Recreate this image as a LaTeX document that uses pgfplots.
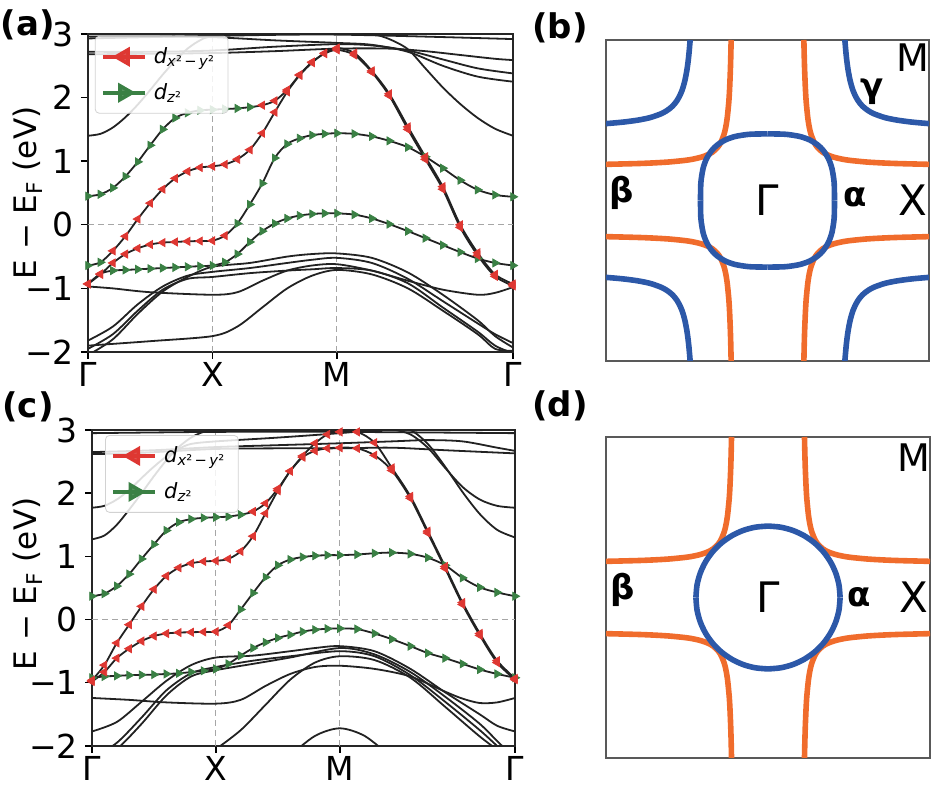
\documentclass[border=0pt]{standalone}
\usepackage{fontspec}
\setmainfont{DejaVu Sans}
\usepackage{pgfplots}
\usepackage{pgfplotstable}
\pgfplotsset{compat=1.18}
\definecolor{pr}{RGB}{222,55,50}
\definecolor{pg}{RGB}{58,128,68}
\definecolor{fsorange}{RGB}{240,108,44}
\definecolor{fsblue}{RGB}{44,88,168}
\definecolor{bandk}{RGB}{34,34,34}

\tikzset{gridd/.style={gray!70, line width=0.5pt, dash pattern=on 3pt off 2pt}}
\pgfplotsset{
  bandax/.style={scale only axis, anchor=south west,
    xmin=0, xmax=3.414, ymin=-2, ymax=3,
    xtick={0,1,2,3.414}, xticklabels={Γ,X,M,Γ},
    ytick={-2,-1,0,1,2,3}, yticklabels={−2,−1,0,1,2,3},
    tick align=outside, xtick pos=left, ytick pos=left,
    major tick length=3.5pt, tick style={black, line width=0.7pt},
    axis line style={black!85, line width=0.7pt},
    tick label style={font=\fontsize{16.5}{18}\selectfont},
    xticklabel style={yshift=2pt},
    legend cell align=left,
    legend image code/.code={\draw[mark repeat=2,mark phase=2,#1] plot coordinates {(0pt,0pt) (10.5pt,0pt) (21pt,0pt)};},
    legend style={anchor=north west, draw=gray!35,
      rounded corners=2pt, fill=white, fill opacity=0.85, text opacity=1,
      font=\fontsize{10.5}{12}\selectfont, row sep=4.5pt, inner xsep=3pt, inner ysep=3.5pt,
      nodes={inner xsep=3.5pt, inner ysep=2pt}},
  },
  fsax/.style={scale only axis, anchor=south west,
    xmin=-1, xmax=1, ymin=-1, ymax=1, xtick=\empty, ytick=\empty,
    axis line style={black!65, line width=0.8pt}},
  bl/.style={bandk, line width=0.9pt, smooth, forget plot},
  projr/.style={only marks, forget plot, mark=triangle*, mark size=2.3pt,
    mark options={rotate=90, draw=pr, fill=pr},
    restrict expr to domain={\thisrow{c}}{0.5:1.5}},
  projg/.style={only marks, forget plot, mark=triangle*, mark size=2.3pt,
    mark options={rotate=-90, draw=pg, fill=pg},
    restrict expr to domain={\thisrow{c}}{1.5:2.5}},
  orl/.style={fsorange, line width=2.8pt, smooth, forget plot},
  bll/.style={fsblue, line width=2.8pt, smooth, forget plot},
}

\newcommand{\fourq}[2]{%
  \addplot[#1] table[x=x, y=y] {#2};
  \addplot[#1] table[x expr=-\thisrow{x}, y=y] {#2};
  \addplot[#1] table[x=x, y expr=-\thisrow{y}] {#2};
  \addplot[#1] table[x expr=-\thisrow{x}, y expr=-\thisrow{y}] {#2};
}
% projected band markers (c=1 d_{x2-y2}, c=2 d_{z2})
\newcommand{\projband}[1]{%
  \addplot[projr] table[x=k, y=E] {#1};
  \addplot[projg] table[x=k, y=E] {#1};
}

% ---- panel (a): projected bands
\pgfplotstableread{
k E c
0 -0.93 1
0.1 -0.77 1
0.2 -0.72 2
0.3 -0.71 2
0.4 -0.70 2
0.5 -0.69 2
0.6 -0.68 2
0.7 -0.67 2
0.8 -0.66 2
0.9 -0.65 2
1 -0.64 2
1.1 -0.59 2
1.2 -0.46 2
1.3 -0.27 2
1.4 -0.10 2
1.5 0.02 2
1.6 0.10 2
1.7 0.145 2
1.8 0.17 2
1.9 0.18 2
2 0.18 2
2.14 0.16 2
2.28 0.10 2
2.42 0.01 2
2.57 -0.10 2
2.71 -0.21 2
2.85 -0.32 2
2.99 -0.43 2
3.13 -0.53 2
3.27 -0.60 2
3.414 -0.64 2
}\aOne
\pgfplotstableread{
k E c
0 -0.93 1
0.1 -0.78 1
0.2 -0.60 1
0.3 -0.46 1
0.4 -0.37 1
0.5 -0.31 1
0.6 -0.28 1
0.7 -0.27 1
0.8 -0.26 1
0.9 -0.255 1
1 -0.25 1
1.1 -0.17 1
1.2 0.02 2
1.3 0.32 2
1.4 0.65 2
1.5 1.05 2
1.6 1.27 2
1.7 1.36 2
1.8 1.41 2
1.9 1.43 2
2 1.44 2
2.14 1.43 2
2.28 1.39 2
2.42 1.32 2
2.57 1.22 2
2.71 1.07 2
2.85 0.89 2
2.99 0.70 2
3.13 0.55 2
3.27 0.47 2
3.414 0.44 2
}\aTwo
\pgfplotstableread{
k E c
0 -0.64 2
0.1 -0.59 2
0.2 -0.41 1
0.3 -0.18 1
0.4 0.09 1
0.5 0.34 1
0.6 0.56 1
0.7 0.73 1
0.8 0.84 1
0.9 0.90 1
1 0.92 1
1.1 0.95 1
1.2 1.03 1
1.3 1.18 1
1.4 1.44 1
1.5 1.77 1
1.6 2.09 1
1.7 2.35 1
1.8 2.55 1
1.9 2.70 1
2 2.78 1
2.14 2.70 1
2.28 2.42 1
2.42 2.06 1
2.57 1.54 1
2.71 1.07 1
2.85 0.60 1
2.99 0.00 1
3.13 -0.44 1
3.27 -0.78 1
3.414 -0.93 1
}\aThree
\pgfplotstableread{
k E c
0 0.45 2
0.1 0.48 2
0.2 0.58 2
0.3 0.76 2
0.4 0.99 2
0.5 1.25 2
0.6 1.50 2
0.7 1.68 2
0.8 1.76 2
0.9 1.80 2
1 1.81 2
1.1 1.82 2
1.2 1.83 2
1.3 1.85 2
1.4 1.88 1
1.5 1.95 1
1.6 2.12 1
1.7 2.36 1
1.8 2.56 1
1.9 2.69 1
2 2.75 1
2.14 2.67 1
2.28 2.40 1
2.42 2.03 1
2.57 1.50 1
2.71 1.03 1
2.85 0.56 1
2.99 -0.04 1
3.13 -0.48 1
3.27 -0.81 1
3.414 -0.96 1
}\aFour

% ---- panel (c): projected bands
\pgfplotstableread{
k E c
0 -0.92 2
0.1 -0.90 2
0.2 -0.89 2
0.3 -0.88 2
0.4 -0.875 2
0.5 -0.87 2
0.6 -0.86 2
0.7 -0.85 2
0.8 -0.83 2
0.9 -0.81 2
1 -0.78 2
1.1 -0.70 2
1.2 -0.57 2
1.3 -0.45 2
1.4 -0.36 2
1.5 -0.29 2
1.6 -0.24 2
1.7 -0.19 2
1.8 -0.16 2
1.9 -0.145 2
2 -0.14 2
2.14 -0.15 2
2.28 -0.22 2
2.42 -0.31 2
2.57 -0.42 2
2.71 -0.53 2
2.85 -0.61 2
2.99 -0.70 2
3.13 -0.79 2
3.27 -0.86 2
3.414 -0.92 2
}\cOne
\pgfplotstableread{
k E c
0 -0.98 1
0.1 -0.83 1
0.2 -0.61 1
0.3 -0.46 1
0.4 -0.34 1
0.5 -0.26 1
0.6 -0.22 1
0.7 -0.205 1
0.8 -0.20 1
0.9 -0.195 1
1 -0.19 1
1.1 -0.09 1
1.2 0.16 2
1.3 0.42 2
1.4 0.67 2
1.5 0.86 2
1.6 0.95 2
1.7 0.99 2
1.8 1.01 2
1.9 1.02 2
2 1.02 2
2.14 1.03 2
2.28 1.05 2
2.42 1.06 2
2.57 1.04 2
2.71 0.98 2
2.85 0.86 2
2.99 0.66 2
3.13 0.51 2
3.27 0.43 2
3.414 0.37 2
}\cTwo
\pgfplotstableread{
k E c
0 -0.96 1
0.1 -0.72 1
0.2 -0.37 1
0.3 -0.08 1
0.4 0.21 1
0.5 0.48 1
0.6 0.69 1
0.7 0.82 1
0.8 0.89 1
0.9 0.92 1
1 0.93 1
1.1 0.96 1
1.2 1.08 1
1.3 1.32 1
1.4 1.68 1
1.5 2.04 1
1.6 2.35 1
1.7 2.59 1
1.8 2.79 1
1.9 2.93 1
2 2.97 1
2.14 2.97 1
2.28 2.80 1
2.42 2.40 1
2.57 1.95 1
2.71 1.40 1
2.85 0.84 1
2.99 0.27 1
3.13 -0.22 1
3.27 -0.65 1
3.414 -0.93 1
}\cThree
\pgfplotstableread{
k E c
0 0.37 2
0.1 0.41 2
0.2 0.53 2
0.3 0.72 2
0.4 0.96 2
0.5 1.19 2
0.6 1.41 2
0.7 1.54 2
0.8 1.59 2
0.9 1.61 2
1 1.62 2
1.1 1.63 2
1.2 1.66 2
1.3 1.71 1
1.4 1.84 1
1.5 2.07 1
1.6 2.35 1
1.7 2.57 1
1.8 2.67 1
1.9 2.71 1
2 2.72 1
2.14 2.71 1
2.28 2.60 1
2.42 2.36 1
2.57 1.92 1
2.71 1.37 1
2.85 0.81 1
2.99 0.24 1
3.13 -0.25 1
3.27 -0.68 1
3.414 -0.95 1
}\cFour

% ---- Fermi surface quadrants
\pgfplotstableread{
x y
0.2252 1.0
0.227 0.916
0.23 0.81
0.235 0.69
0.24 0.61
0.25 0.51
0.26 0.45
0.27 0.41
0.29 0.36
0.31 0.33
0.34 0.302
0.37 0.285
0.41 0.27
0.46 0.258
0.51 0.25
0.61 0.24
0.71 0.234
0.81 0.23
1.0 0.2252
}\betaq
\pgfplotstableread{
x y
0.479 1.0
0.482 0.964
0.486 0.918
0.49 0.88
0.495 0.84
0.5 0.807
0.51 0.754
0.52 0.715
0.53 0.684
0.54 0.66
0.56 0.623
0.588 0.588
0.623 0.56
0.66 0.54
0.715 0.52
0.754 0.51
0.807 0.5
0.88 0.49
0.94 0.484
1.0 0.479
}\gammaq
\pgfplotstableread{
x y
0.415 0
0.4139 0.0816
0.4108 0.1292
0.3982 0.2029
0.3771 0.2615
0.3474 0.3091
0.3294 0.3294
0.3091 0.3474
0.2615 0.3771
0.2029 0.3982
0.1292 0.4108
0.0816 0.4139
0 0.415
}\alphaq
\pgfplotstableread{
x y
0.445 0
0.4382 0.0773
0.4182 0.1522
0.3854 0.2225
0.3409 0.2860
0.2860 0.3409
0.2225 0.3854
0.1522 0.4182
0.0773 0.4382
0 0.445
}\circq

\begin{document}
\begin{tikzpicture}
\path[use as bounding box] (0,0) rectangle (470.5pt,393pt);

% ================= (a)
\begin{axis}[bandax, at={(44pt,217pt)}, width=212.5pt, height=159pt,
  legend style={at={(0.016,0.994)}}]
\draw[gridd] (axis cs:1,-2) -- (axis cs:1,3);
\draw[gridd] (axis cs:2,-2) -- (axis cs:2,3);
\draw[gridd] (axis cs:0,0) -- (axis cs:3.414,0);
\addlegendimage{pr, line width=1.8pt, mark=triangle*, mark size=4pt, mark options={rotate=90}}
\addlegendentry{\textit{d}\textsubscript{\textit{x}²\,−\,\textit{y}²}}
\addlegendimage{pg, line width=1.8pt, mark=triangle*, mark size=4pt, mark options={rotate=-90}}
\addlegendentry{\textit{d}\textsubscript{\textit{z}²}}
\projband{\aOne}
\projband{\aTwo}
\projband{\aThree}
\projband{\aFour}
% other bands
\addplot[bl] coordinates {(0,1.4) (0.1,1.43) (0.2,1.53) (0.3,1.69) (0.4,1.89) (0.5,2.12) (0.6,2.36) (0.7,2.58) (0.8,2.77) (0.9,2.9) (1,2.96) (1.5,3.05) (2,3.05) (2.28,3.0) (2.42,2.92) (2.57,2.76) (2.71,2.46) (2.85,2.16) (2.99,1.9) (3.13,1.68) (3.27,1.51) (3.414,1.4)};
\addplot[bl] coordinates {(0,2.68) (0.5,2.69) (1,2.7) (1.5,2.73) (2,2.77) (2.42,2.77) (2.71,2.73) (2.99,2.67) (3.27,2.61) (3.414,2.59)};
\addplot[bl] coordinates {(0,2.72) (0.5,2.72) (1,2.74) (1.5,2.8) (2,2.84) (2.28,2.82) (2.57,2.74) (2.85,2.6) (3.13,2.46) (3.414,2.38)};
\addplot[bl] coordinates {(0,2.96) (0.5,2.96) (1,2.95) (1.5,2.9) (2,2.86) (2.28,2.83) (2.57,2.72) (2.85,2.5) (3.13,2.33) (3.414,2.25)};
\addplot[bl] coordinates {(0,2.93) (1,2.97) (2,2.99) (3.414,2.92)};
\addplot[bl] coordinates {(0,-0.97) (0.2,-1.0) (0.5,-1.06) (1,-1.1) (1.2,-1.06) (1.4,-0.88) (1.6,-0.72) (1.8,-0.64) (2,-0.62) (2.28,-0.72) (2.57,-0.88) (2.85,-1.02) (3.13,-1.1) (3.27,-1.07) (3.414,-0.98)};
\addplot[bl] coordinates {(0,-1.82) (0.2,-1.6) (0.4,-1.25) (0.6,-0.97) (0.8,-0.8) (1,-0.74) (1.3,-0.68) (1.6,-0.6) (1.8,-0.55) (2,-0.52) (2.28,-0.6) (2.57,-0.85) (2.85,-1.2) (3.13,-1.55) (3.27,-1.72) (3.414,-1.86)};
\addplot[bl] coordinates {(0,-2.05) (0.2,-1.8) (0.4,-1.4) (0.6,-1.05) (0.8,-0.82) (1,-0.66) (1.3,-0.6) (1.6,-0.5) (1.8,-0.46) (2,-0.45) (2.28,-0.52) (2.57,-0.75) (2.85,-1.1) (3.13,-1.5) (3.27,-1.75) (3.414,-1.93)};
\addplot[bl] coordinates {(0,-1.9) (0.5,-1.83) (1,-1.75) (1.2,-1.6) (1.4,-1.3) (1.6,-1.0) (1.8,-0.8) (2,-0.71) (2.28,-0.78) (2.57,-1.0) (2.85,-1.35) (3.13,-1.72) (3.27,-1.95) (3.414,-1.98)};
\addplot[bl] coordinates {(0,-1.95) (0.2,-1.72) (0.4,-1.35) (0.6,-1.02) (0.8,-0.85) (1,-0.82) (1.3,-0.76) (1.6,-0.72) (1.8,-0.7) (2,-0.68) (2.28,-0.72) (2.57,-0.92) (2.85,-1.3) (3.13,-1.68) (3.27,-1.9) (3.414,-2.02)};
\addplot[bl] table[x=k, y=E] {\aOne};
\addplot[bl] table[x=k, y=E] {\aTwo};
\addplot[bl] table[x=k, y=E] {\aThree};
\addplot[bl] table[x=k, y=E] {\aFour};
\end{axis}

% ================= (c)
\begin{axis}[bandax, at={(46pt,20pt)}, width=211.5pt, height=158pt,
  legend style={at={(0.031,0.984)}}]
\draw[gridd] (axis cs:1,-2) -- (axis cs:1,3);
\draw[gridd] (axis cs:2,-2) -- (axis cs:2,3);
\draw[gridd] (axis cs:0,0) -- (axis cs:3.414,0);
\addlegendimage{pr, line width=1.8pt, mark=triangle*, mark size=4pt, mark options={rotate=90}}
\addlegendentry{\textit{d}\textsubscript{\textit{x}²\,−\,\textit{y}²}}
\addlegendimage{pg, line width=1.8pt, mark=triangle*, mark size=4pt, mark options={rotate=-90}}
\addlegendentry{\textit{d}\textsubscript{\textit{z}²}}
\projband{\cOne}
\projband{\cTwo}
\projband{\cThree}
\projband{\cFour}
\addplot[bl] coordinates {(0,1.27) (0.1,1.33) (0.2,1.5) (0.3,1.74) (0.4,2.0) (0.5,2.27) (0.6,2.52) (0.7,2.73) (0.8,2.88) (0.9,2.97) (1,3.0) (1.5,3.05) (2,3.08) (2.42,3.05) (2.57,3.0) (2.71,2.78) (2.85,2.42) (2.99,2.02) (3.13,1.67) (3.27,1.42) (3.414,1.3)};
\addplot[bl] coordinates {(0,1.77) (0.1,1.8) (0.2,1.9) (0.3,2.05) (0.4,2.24) (0.5,2.42) (0.6,2.58) (0.7,2.7) (0.8,2.78) (1,2.82) (1.5,2.88) (2,2.95) (2.28,3.0) (2.42,3.01) (2.57,2.93) (2.71,2.72) (2.85,2.4) (2.99,2.1) (3.13,1.9) (3.27,1.8) (3.414,1.77)};
\addplot[bl] coordinates {(0,2.65) (0.5,2.68) (1,2.73) (1.5,2.76) (2,2.79) (2.42,2.82) (2.71,2.84) (2.99,2.82) (3.27,2.72) (3.414,2.67)};
\addplot[bl] coordinates {(0,2.95) (1,2.97) (2,2.97) (3.414,2.95)};
\addplot[bl] coordinates {(0,2.62) (0.3,2.63) (0.6,2.66) (1,2.7) (1.5,2.71) (2,2.71) (2.42,2.72) (2.85,2.68) (3.414,2.63)};
\addplot[bl] coordinates {(0,-1.24) (0.3,-1.27) (0.6,-1.31) (1,-1.33) (1.2,-1.27) (1.4,-1.05) (1.6,-0.86) (1.8,-0.75) (2,-0.73) (2.28,-0.78) (2.57,-0.9) (2.85,-1.14) (2.99,-1.25) (3.13,-1.32) (3.27,-1.31) (3.414,-1.24)};
\addplot[bl] coordinates {(0,-1.77) (0.2,-1.62) (0.4,-1.3) (0.6,-0.97) (0.8,-0.72) (1,-0.6) (1.3,-0.57) (1.6,-0.5) (1.8,-0.45) (2,-0.42) (2.28,-0.5) (2.57,-0.78) (2.85,-1.15) (3.13,-1.5) (3.27,-1.68) (3.414,-1.77)};
\addplot[bl] coordinates {(0,-2.2) (0.2,-1.95) (0.4,-1.55) (0.6,-1.12) (0.8,-0.85) (1,-0.75) (1.3,-0.65) (1.6,-0.58) (2,-0.5) (2.28,-0.58) (2.57,-0.88) (2.85,-1.3) (3.13,-1.75) (3.3,-2.05) (3.414,-2.2)};
\addplot[bl] coordinates {(0,-2.3) (0.2,-2.05) (0.4,-1.65) (0.6,-1.2) (0.8,-0.9) (1,-0.8) (1.3,-0.7) (1.6,-0.6) (2,-0.45) (2.28,-0.55) (2.57,-0.83) (2.85,-1.22) (3.13,-1.65) (3.3,-1.98) (3.414,-2.15)};
\addplot[bl] coordinates {(1,-2.05) (1.2,-1.75) (1.4,-1.35) (1.6,-0.95) (1.8,-0.68) (2,-0.58) (2.28,-0.64) (2.57,-0.92) (2.85,-1.38) (3.13,-1.85) (3.3,-2.1)};
\addplot[bl] coordinates {(1.6,-2.15) (1.8,-1.84) (2,-1.72) (2.2,-1.84) (2.4,-2.15)};
\addplot[bl] table[x=k, y=E] {\cOne};
\addplot[bl] table[x=k, y=E] {\cTwo};
\addplot[bl] table[x=k, y=E] {\cThree};
\addplot[bl] table[x=k, y=E] {\cFour};
\end{axis}

% ================= (b)
\begin{axis}[fsax, at={(303pt,212.5pt)}, width=161.5pt, height=160.5pt]
\fourq{orl}{\betaq}
\fourq{bll}{\gammaq}
\fourq{bll}{\alphaq}
\node[font=\fontsize{19}{21}\selectfont] at (axis cs:0.9,0.89) {M};
\node[font=\fontsize{21}{23}\selectfont] at (axis cs:0.9,0.0) {X};
\node[font=\fontsize{21}{23}\selectfont] at (axis cs:0.0,0.0) {Γ};
\node[font=\bfseries\fontsize{17}{19}\selectfont] at (axis cs:0.54,0.02) {α};
\node[font=\bfseries\fontsize{17}{19}\selectfont] at (axis cs:-0.9,0.05) {β};
\node[font=\bfseries\fontsize{17}{19}\selectfont] at (axis cs:0.65,0.68) {γ};
\end{axis}

% ================= (d)
\begin{axis}[fsax, at={(303pt,14pt)}, width=162pt, height=160.5pt]
\fourq{orl}{\betaq}
\fourq{bll}{\circq}
\node[font=\fontsize{19}{21}\selectfont] at (axis cs:0.9,0.87) {M};
\node[font=\fontsize{21}{23}\selectfont] at (axis cs:0.9,0.0) {X};
\node[font=\fontsize{21}{23}\selectfont] at (axis cs:0.0,0.0) {Γ};
\node[font=\bfseries\fontsize{17}{19}\selectfont] at (axis cs:0.56,0.0) {α};
\node[font=\bfseries\fontsize{17}{19}\selectfont] at (axis cs:-0.9,0.05) {β};
\end{axis}

% labels
\node[rotate=90, font=\fontsize{15.5}{18}\selectfont] at (14pt,296.5pt) {E − E\textsubscript{F} (eV)};
\node[rotate=90, font=\fontsize{15.5}{18}\selectfont] at (14pt,101pt) {E − E\textsubscript{F} (eV)};
\node[font=\bfseries\fontsize{17}{20}\selectfont] at (14pt,380.5pt) {(a)};
\node[font=\bfseries\fontsize{17}{20}\selectfont] at (280pt,379pt) {(b)};
\node[font=\bfseries\fontsize{17}{20}\selectfont] at (14pt,189.5pt) {(c)};
\node[font=\bfseries\fontsize{17}{20}\selectfont] at (280pt,190pt) {(d)};
\end{tikzpicture}
\end{document}
